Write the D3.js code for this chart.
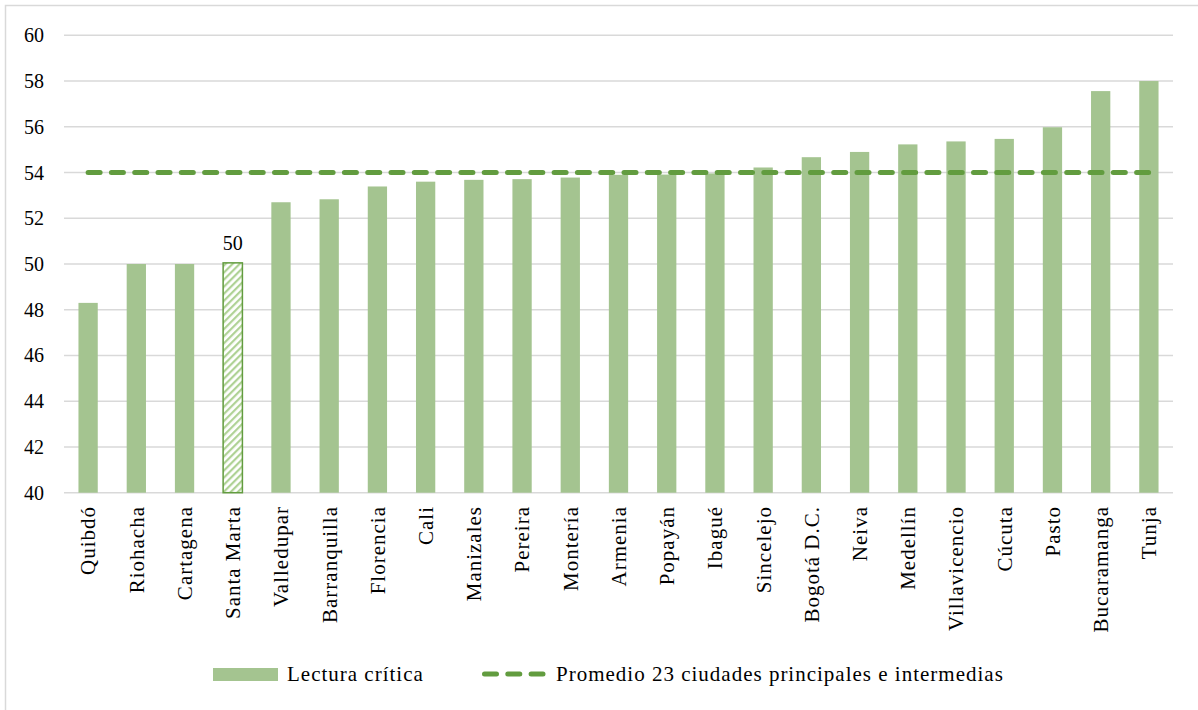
<!DOCTYPE html>
<html>
<head>
<meta charset="utf-8">
<script src="https://cdn.jsdelivr.net/npm/d3@7"></script>
<style>
  body { margin: 0; background: #fff; }
  svg text { font-family: "Liberation Serif", serif; fill: #000; }
</style>
</head>
<body>
<svg id="chart" width="1198" height="710"></svg>
<script>
// city names, sorted by score
var cities = ["Quibdó", "Riohacha", "Cartagena", "Santa Marta", "Valledupar", "Barranquilla",
  "Florencia", "Cali", "Manizales", "Pereira", "Montería", "Armenia", "Popayán", "Ibagué",
  "Sincelejo", "Bogotá D.C.", "Neiva", "Medellín", "Villavicencio", "Cúcuta", "Pasto",
  "Bucaramanga", "Tunja"];
// Lectura crítica scores
var scores = [48.3, 50.0, 50.0, 50.05, 52.7, 52.83, 53.39, 53.6, 53.68, 53.71, 53.78, 53.9,
  53.91, 53.96, 54.22, 54.67, 54.9, 55.23, 55.36, 55.47, 55.98, 57.56, 58.0];
var average = 54.0;
var highlight = "Santa Marta";
var yTicks = [40, 42, 44, 46, 48, 50, 52, 54, 56, 58, 60];
var seriesNames = ["Lectura crítica", "Promedio 23 ciudades principales e intermedias"];

var barColor = "#a4c490";
var lineColor = "#629c3f";

var svg = d3.select("#chart");

// outer frame
svg.append("rect")
  .attr("x", 5.5).attr("y", 5.5)
  .attr("width", 1300).attr("height", 800)
  .attr("fill", "none").attr("stroke", "#d9d9d9").attr("stroke-width", 1.5);

// hatch pattern for highlighted bar
var defs = svg.append("defs");
var pat = defs.append("pattern")
  .attr("id", "hatch")
  .attr("patternUnits", "userSpaceOnUse")
  .attr("width", 5).attr("height", 5)
  .attr("patternTransform", "rotate(45)");
pat.append("rect").attr("width", 5).attr("height", 5).attr("fill", "#fff");
pat.append("rect").attr("width", 2.2).attr("height", 5).attr("fill", "#afd295");

var x = d3.scaleBand()
  .domain(cities)
  .range([64, 1173])
  .paddingInner(0.6)
  .paddingOuter(0.3);

var y = d3.scaleLinear()
  .domain([40, 60])
  .range([492.7, 35.3]);

// gridlines
svg.append("g")
  .selectAll("line")
  .data(yTicks)
  .enter()
  .append("line")
  .attr("x1", 64).attr("x2", 1173)
  .attr("y1", function (d) { return y(d); })
  .attr("y2", function (d) { return y(d); })
  .attr("stroke", "#d9d9d9")
  .attr("stroke-width", 1.5);

// y tick labels
svg.append("g")
  .selectAll("text")
  .data(yTicks)
  .enter()
  .append("text")
  .attr("x", 44)
  .attr("y", function (d) { return y(d); })
  .attr("dy", "0.35em")
  .attr("text-anchor", "end")
  .attr("font-size", "20px")
  .text(function (d) { return d; });

// bars
svg.append("g")
  .selectAll("rect")
  .data(cities)
  .enter()
  .append("rect")
  .attr("x", function (d) { return x(d); })
  .attr("width", x.bandwidth())
  .attr("y", function (d, i) { return y(scores[i]); })
  .attr("height", function (d, i) { return y(40) - y(scores[i]); })
  .attr("fill", function (d) { return d === highlight ? "url(#hatch)" : barColor; })
  .attr("stroke", function (d) { return d === highlight ? lineColor : "none"; })
  .attr("stroke-width", 1.5);

// data label for highlighted bar
var hi = cities.indexOf(highlight);
svg.append("text")
  .attr("x", x(highlight) + x.bandwidth() / 2)
  .attr("y", y(scores[hi]) - 13)
  .attr("text-anchor", "middle")
  .attr("font-size", "20px")
  .text(d3.format(".0f")(scores[hi]));

// average line
svg.append("line")
  .attr("x1", x(cities[0]) + x.bandwidth() / 2)
  .attr("x2", x(cities[cities.length - 1]) + x.bandwidth() / 2)
  .attr("y1", y(average))
  .attr("y2", y(average))
  .attr("stroke", lineColor)
  .attr("stroke-width", 5)
  .attr("stroke-linecap", "round")
  .attr("stroke-dasharray", "12,11.3");

// x labels
svg.append("g")
  .selectAll("text")
  .data(cities)
  .enter()
  .append("text")
  .attr("transform", function (d) {
    return "translate(" + (x(d) + x.bandwidth() / 2) + ",506) rotate(-90)";
  })
  .attr("dy", "0.35em")
  .attr("text-anchor", "end")
  .attr("font-size", "21px")
  .attr("letter-spacing", "1px")
  .text(function (d) { return d; });

// legend
var legend = svg.append("g");
legend.append("rect")
  .attr("x", 213).attr("y", 668)
  .attr("width", 65).attr("height", 13)
  .attr("fill", barColor);
legend.append("text")
  .attr("x", 287).attr("y", 674)
  .attr("dy", "0.35em")
  .attr("font-size", "21px")
  .attr("letter-spacing", "1px")
  .text(seriesNames[0]);
legend.append("line")
  .attr("x1", 484.5).attr("x2", 543)
  .attr("y1", 674).attr("y2", 674)
  .attr("stroke", lineColor)
  .attr("stroke-width", 5)
  .attr("stroke-linecap", "round")
  .attr("stroke-dasharray", "12,11.3");
legend.append("text")
  .attr("x", 556).attr("y", 674)
  .attr("dy", "0.35em")
  .attr("font-size", "21px")
  .attr("letter-spacing", "1px")
  .text(seriesNames[1]);
</script>
</body>
</html>
